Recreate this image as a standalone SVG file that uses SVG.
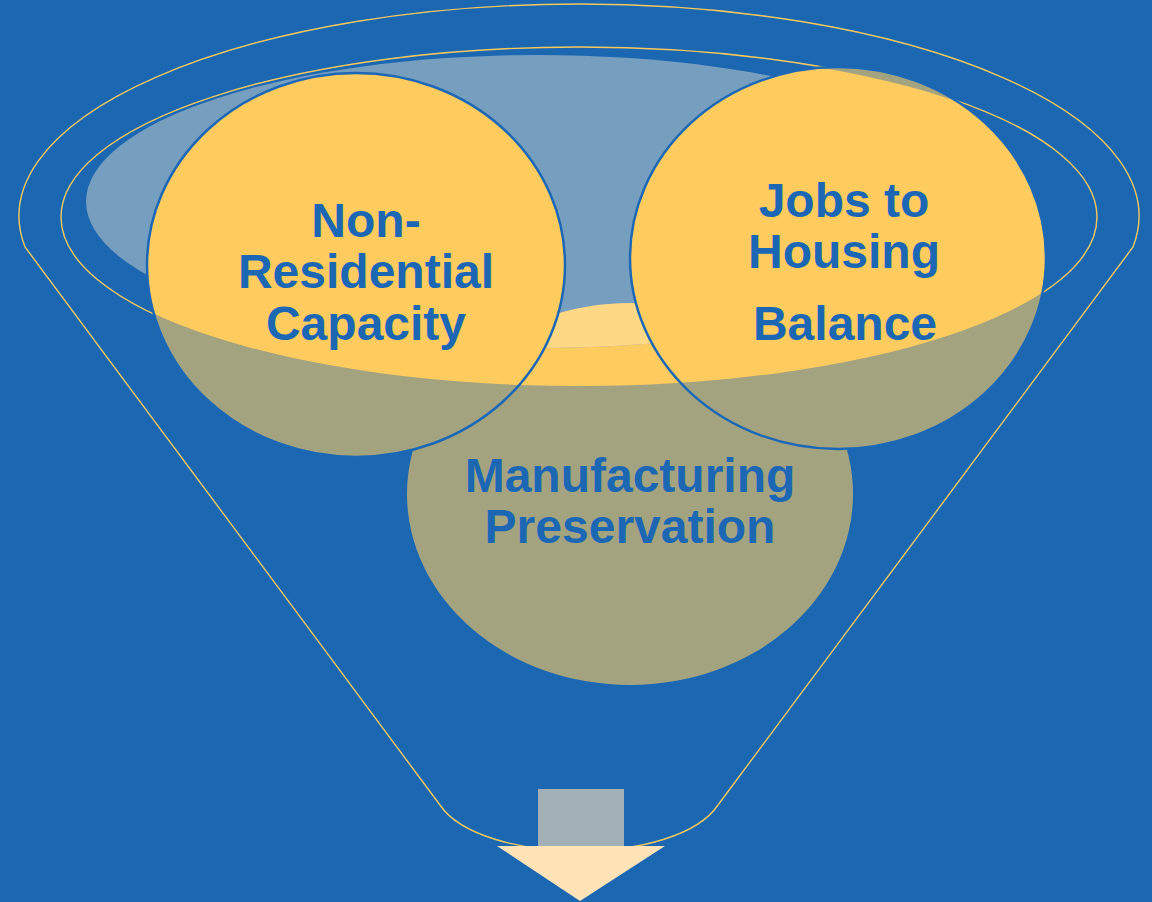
<svg xmlns="http://www.w3.org/2000/svg" width="1152" height="902" viewBox="0 0 1152 902">
  <style>
    .outline { fill: none; stroke: #F7C85E; stroke-width: 1.4; }
    .olive { fill: #A3A47F; }
    .yellow { fill: #FECC5E; }
    .ring { fill: none; stroke: #1C68B6; stroke-width: 2.5; }
    .label { font-family: "Liberation Sans", Arial, sans-serif; font-weight: bold; font-size: 48px; fill: #1C67B4; text-anchor: middle; }
  </style>
  <defs>
    <clipPath id="innerClip">
      <ellipse cx="579" cy="217" rx="518" ry="169"/>
    </clipPath>
    <clipPath id="lightClip">
      <ellipse cx="538" cy="201.5" rx="452" ry="146.5"/>
    </clipPath>
  </defs>

  <rect x="0" y="0" width="1152" height="902" fill="#1B67B2"/>

  <g id="funnel">
    <path class="outline" d="M440,805 L25,247 A560,212 0 1,1 1133,247 L718,805 C698,835 640,851 580,851 C520,851 460,835 440,805 Z"/>
    <ellipse class="outline" cx="579" cy="217" rx="518" ry="170"/>
  </g>

  <g id="node-manufacturing">
    <ellipse class="olive" cx="630" cy="494" rx="223" ry="191"/>
    <ellipse class="yellow" cx="630" cy="494" rx="223" ry="191" clip-path="url(#innerClip)"/>
  </g>

  <g id="funnel-mouth">
    <ellipse cx="538" cy="201.5" rx="452" ry="146.5" fill="#769EBF"/>
    <ellipse cx="630" cy="494" rx="223" ry="191" fill="#FFD886" clip-path="url(#lightClip)"/>
  </g>

  <g id="node-manufacturing-label">
    <text class="label" x="630" y="492">Manufacturing</text>
    <text class="label" x="630" y="543">Preservation</text>
  </g>

  <g id="node-nonresidential">
    <ellipse class="olive" cx="356" cy="265" rx="209" ry="192"/>
    <ellipse class="yellow" cx="356" cy="265" rx="209" ry="192" clip-path="url(#innerClip)"/>
    <ellipse class="ring" cx="356" cy="265" rx="209" ry="192"/>
    <text class="label" x="366" y="237">Non-</text>
    <text class="label" x="366" y="288">Residential</text>
    <text class="label" x="366" y="340">Capacity</text>
  </g>

  <g id="node-jobs-housing">
    <ellipse class="olive" cx="838" cy="258" rx="208" ry="191"/>
    <ellipse class="yellow" cx="838" cy="258" rx="208" ry="191" clip-path="url(#innerClip)"/>
    <ellipse class="ring" cx="838" cy="258" rx="208" ry="191"/>
    <text class="label" x="844" y="217">Jobs to</text>
    <text class="label" x="844" y="268">Housing</text>
    <text class="label" x="845" y="340">Balance</text>
  </g>

  <g id="connectors">
    <rect x="538" y="789" width="86" height="60" fill="#A3B0B7"/>
    <polygon points="497,846 665,846 580,901" fill="#FFE3B6"/>
  </g>
</svg>
